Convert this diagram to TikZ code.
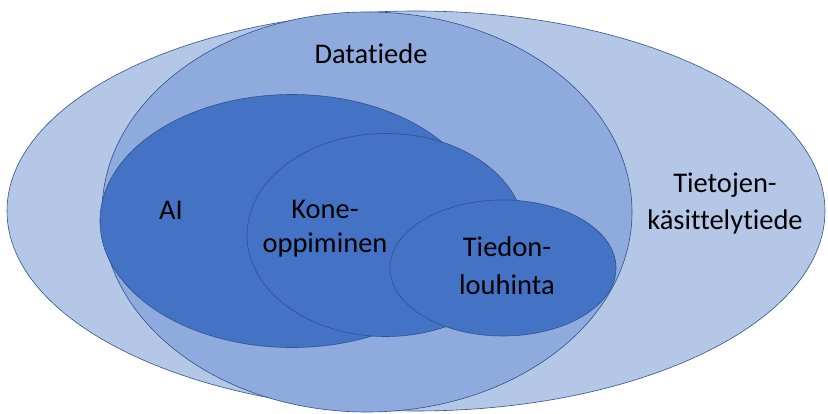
\documentclass[tikz,border=0pt]{standalone}
\usepackage{fontspec}
\setmainfont{Carlito}[Ligatures=NoCommon]
\usetikzlibrary{shapes.geometric}
\definecolor{outerc}{HTML}{B4C7E7}
\definecolor{midc}{HTML}{8FAADC}
\definecolor{darkc}{HTML}{4472C4}
\definecolor{linec}{HTML}{2F528F}
\tikzset{
  blob/.style={ellipse, draw=linec, line width=0.6pt, inner sep=0pt},
  lbl/.style={anchor=base, inner sep=0pt, text=black, font=\fontsize{28.5}{34}\selectfont}
}
\begin{document}
\begin{tikzpicture}[x=1pt,y=-1pt]
\useasboundingbox (0,0) rectangle (828,414);
\node[blob, fill=outerc, minimum width=818pt, minimum height=400pt] (outer) at (416,211) {};
\node[blob, fill=midc, minimum width=530pt, minimum height=400pt] (data) at (367,212) {};
\node[blob, fill=darkc, minimum width=384pt, minimum height=253pt] (ai) at (292,221) {};
\node[blob, fill=darkc, minimum width=278pt, minimum height=203pt] (ml) at (386,235) {};
\node[blob, fill=darkc, minimum width=226pt, minimum height=136pt] (dm) at (503,268) {};
\node[lbl] (tdata) at (371,64) {Datatiede};
\node[lbl] (tai) at (171,220) {AI};
\node[lbl] (tml1) at (325,219) {Kone-};
\node[lbl] (tml2) at (325,253) {oppiminen};
\node[lbl] (tdm1) at (507,257) {Tiedon-};
\node[lbl] (tdm2) at (507,295) {louhinta};
\node[lbl] (tout1) at (725,193) {Tietojen-};
\node[lbl] (tout2) at (725,230) {käsittelytiede};
\end{tikzpicture}
\end{document}
